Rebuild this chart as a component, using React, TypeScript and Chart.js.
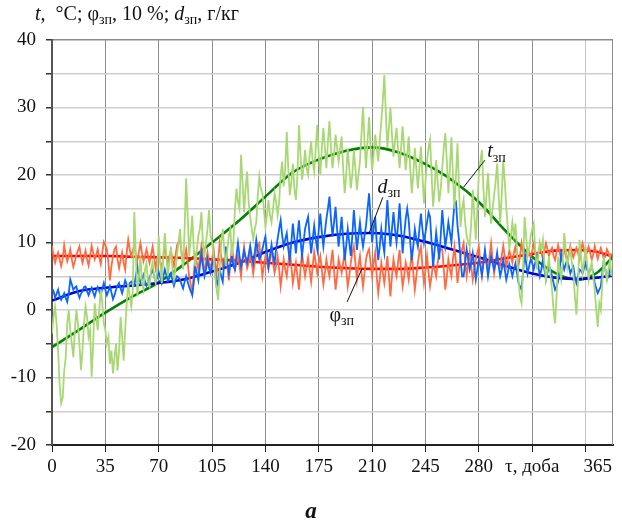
import React, { useEffect, useRef } from "react";
import { Chart, registerables } from "chart.js";

Chart.register(...registerables);

// Daily records, one value per day starting at day 0
const DAY_STEP = 1;

// Outdoor air temperature t_зп, °C
const T_DAILY = [
  -3.5, -1, 0.5, -2, -6, -11, -13.8, -13, -9, -7,
  -2, 0, -3, -5, -7, -3, 0, -2, -5, -8.9,
  -6, -2, 0.5, -1, -4, -3, -9.9, -5, 1, -1,
  -3, 0, 3, 1, -2, -3, -5, -4, -8, -6,
  -9.4, -7, -5, -9, -6, -1, -4, -7.5, -3, 1,
  4, 2, 0.5, 3, 14.5, 8, 2, 5, 8, 4,
  3, 6, 7, 4, 3.5, 6, 7, 5, 4, 6,
  11, 7, 4, 8, 11.4, 8, 5, 7, 9.4, 6,
  4.5, 6, 8, 10, 12, 8, 6, 12, 19.5, 14,
  8, 11, 14, 9, 6.5, 9, 11, 12, 14.5, 10,
  8, 10, 12, 14.8, 11, 10, 8, 5, 3, 1.5,
  6, 10, 12, 9, 6.5, 9, 11, 12, 8, 10,
  15, 18, 16, 15, 23, 19, 14.5, 18, 20.5, 16,
  13.8, 12, 10.5, 12, 13, 17, 19.8, 18, 17.3, 15,
  12.3, 14, 16.3, 14, 13, 15, 17.3, 16, 14, 16,
  20, 22, 18.3, 21, 26.4, 21, 17, 19, 21.7, 18,
  16.3, 20, 27.4, 23, 19.3, 21, 23.7, 21, 20, 23,
  25, 22, 20.5, 24, 27.4, 23, 20, 24, 27, 24,
  21, 25, 28, 24, 21, 23, 26, 24, 22, 24,
  25.7, 21, 17.3, 20, 24, 21, 18, 20, 23.7, 21,
  17.8, 20, 22, 26, 30.1, 25, 21, 25, 28.6, 24,
  20.7, 23, 26, 24, 22, 25, 28, 31, 34.8, 29,
  24, 27, 30, 26, 22.7, 25, 27, 24, 21, 24,
  27.2, 24, 20.7, 23, 25.7, 21, 17.3, 20, 24, 21,
  18, 21, 24.2, 20, 15.8, 19, 22, 24, 25.2, 20,
  15.3, 18, 22.2, 19, 16, 18, 21, 24, 26.2, 22,
  17.3, 21, 25.6, 20, 15, 20, 24.7, 18, 12.3, 15,
  16.3, 13, 11, 10, 9.4, 13, 17.8, 14, 10.4, 15,
  20.3, 22, 23.7, 18, 13.8, 17, 20.3, 16, 12.8, 15,
  17, 19, 21.7, 17, 12.8, 17, 22.2, 19, 15.3, 12,
  8.9, 11, 13, 11, 12.8, 9, 4.5, 2, 1, 6,
  13.8, 11, 7.9, 9, 11, 12, 12.8, 9, 6, 8,
  10, 9, 10.4, 7, 4.5, 6, 8, 5, 3, 0,
  -2, 2, 7.9, 6, 4.5, 7, 11.4, 9, 6.4, 8,
  9, 7, 5.4, 2, -0.7, 4, 10.4, 8, 5.4, 7,
  9.4, 7, 4.5, 6, 7, 5, 3, 0, -2.5, 1,
  0, 4, 7.9, 6, 4.5, 6, 7.4, 5,
];

// Moisture content d_зп, g/kg
const D_DAILY = [
  3.2, 2.8, 1.8, 2.4, 3.0, 2.0, 1.5, 2.0, 2.5, 1.8,
  1.2, 2.5, 4.5, 3.8, 3.0, 3.3, 3.5, 2.5, 1.8, 2.4,
  2.8, 3.4, 3.5, 2.8, 2.2, 2.8, 3.3, 2.6, 2.0, 2.8,
  3.4, 2.8, 2.3, 3.2, 4.0, 3.0, 2.2, 2.8, 3.5, 2.6,
  1.6, 2.2, 3.0, 3.6, 4.0, 3.2, 2.5, 3.4, 4.4, 3.8,
  3.5, 4.0, 4.2, 3.8, 3.6, 5.0, 6.4, 5.0, 4.0, 4.6,
  5.2, 4.2, 3.6, 4.2, 4.8, 5.4, 6.0, 5.0, 4.2, 4.8,
  5.6, 4.8, 4.0, 5.0, 6.0, 5.2, 4.3, 4.8, 5.4, 4.4,
  3.6, 4.4, 5.0, 4.8, 4.5, 3.8, 3.2, 4.2, 5.0, 4.2,
  3.4, 2.8, 2.2, 4.0, 6.5, 5.4, 4.4, 6.5, 8.4, 6.5,
  5.0, 6.0, 7.5, 6.2, 5.5, 6.8, 7.9, 5.5, 3.5, 4.5,
  6.0, 5.0, 4.2, 7.0, 9.4, 7.0, 5.5, 6.8, 8.0, 6.5,
  6.0, 8.0, 9.9, 8.0, 6.4, 7.5, 8.8, 7.8, 7.0, 8.2,
  9.5, 8.0, 6.9, 8.5, 10.4, 8.8, 7.5, 8.0, 9.0, 10.0,
  10.9, 8.5, 6.4, 8.0, 9.6, 8.0, 7.0, 9.0, 10.5, 12.0,
  13.3, 11.0, 9.4, 10.5, 11.4, 9.0, 7.4, 10.0, 12.8, 10.5,
  8.4, 11.0, 13.3, 10.5, 8.0, 10.0, 12.0, 13.0, 13.8, 11.0,
  8.4, 10.5, 12.5, 10.5, 9.0, 12.0, 14.3, 11.5, 9.4, 11.5,
  13.5, 15.0, 16.8, 13.5, 10.9, 13.0, 15.3, 12.0, 9.4, 11.5,
  13.8, 10.5, 7.4, 9.5, 12.0, 10.0, 8.0, 11.0, 14.8, 12.0,
  8.9, 11.0, 13.0, 11.0, 9.4, 11.0, 12.5, 15.0, 17.3, 13.5,
  10.0, 12.0, 13.8, 10.0, 7.4, 9.5, 12.0, 10.0, 8.5, 12.5,
  16.3, 12.5, 9.4, 12.0, 14.5, 12.0, 10.0, 12.5, 15.8, 12.0,
  8.4, 11.0, 13.5, 15.0, 13.3, 10.0, 7.4, 9.5, 12.0, 10.5,
  9.4, 12.0, 14.3, 12.0, 10.0, 11.5, 13.0, 14.5, 13.8, 10.0,
  6.4, 9.0, 11.5, 9.5, 7.5, 11.0, 14.8, 12.0, 9.4, 11.0,
  13.0, 11.5, 10.0, 13.0, 15.8, 16.0, 12.5, 10.4, 7.5, 5.0,
  5.0, 7.0, 9.0, 7.5, 6.0, 7.0, 8.4, 6.5, 4.5, 6.0,
  7.5, 6.5, 5.2, 7.0, 8.9, 7.0, 5.0, 6.5, 8.0, 7.0,
  6.0, 7.0, 8.5, 6.5, 5.0, 6.0, 7.4, 6.0, 4.5, 5.5,
  6.8, 6.0, 5.0, 6.0, 6.9, 5.5, 4.0, 3.5, 3.0, 5.5,
  8.4, 7.0, 5.4, 6.5, 7.5, 7.0, 6.0, 7.0, 8.0, 6.5,
  5.0, 6.0, 7.4, 6.0, 4.5, 5.5, 6.5, 6.0, 5.0, 4.0,
  3.0, 3.5, 4.2, 6.0, 8.4, 7.0, 6.0, 6.8, 7.5, 6.5,
  5.4, 6.0, 6.4, 5.0, 4.0, 5.0, 6.0, 5.8, 5.4, 6.2,
  6.9, 6.0, 5.5, 6.0, 6.5, 5.5, 4.0, 3.2, 2.5, 3.0,
  3.5, 5.5, 7.4, 6.0, 4.5, 5.0, 6.0, 5.5,
];

// Relative humidity φ_зп, in tens of percent
const PHI_DAILY = [
  9.5, 8.0, 7.0, 7.8, 8.5, 7.5, 6.5, 7.5, 9.6, 8.2,
  7.2, 8.0, 9.0, 7.5, 6.4, 7.2, 8.2, 8.8, 9.4, 8.0,
  7.0, 7.8, 8.8, 7.5, 6.6, 8.0, 9.5, 8.5, 7.5, 8.2,
  9.0, 7.8, 6.8, 8.5, 10.1, 9.6, 9.0, 7.0, 4.4, 6.5,
  8.0, 9.0, 9.4, 7.5, 6.2, 7.4, 8.5, 7.0, 6.0, 8.5,
  10.4, 9.0, 8.0, 8.8, 9.6, 8.2, 7.4, 8.6, 9.9, 8.5,
  7.2, 8.0, 9.0, 8.0, 7.0, 8.2, 9.4, 7.8, 6.2, 7.5,
  8.6, 7.2, 6.0, 7.8, 9.5, 8.0, 7.0, 8.0, 8.8, 7.6,
  6.5, 8.0, 9.6, 10.0, 10.4, 8.5, 7.0, 8.0, 9.0, 7.0,
  5.0, 3.8, 2.5, 5.5, 8.0, 7.0, 6.0, 7.8, 9.4, 7.5,
  5.5, 7.0, 8.5, 7.0, 6.0, 7.5, 9.0, 7.0, 5.4, 7.5,
  9.9, 8.0, 6.5, 7.5, 8.5, 6.5, 4.4, 7.0, 9.4, 7.8,
  6.0, 7.0, 8.0, 6.5, 5.0, 7.5, 9.4, 7.5, 6.2, 7.0,
  8.4, 7.0, 5.4, 7.0, 8.8, 9.5, 9.9, 7.5, 5.0, 6.5,
  8.0, 7.0, 6.0, 7.5, 9.4, 7.0, 5.5, 6.5, 8.0, 6.0,
  3.5, 5.5, 7.5, 6.0, 5.0, 7.0, 8.9, 6.5, 4.0, 5.5,
  7.0, 5.0, 3.0, 6.0, 8.5, 6.5, 5.0, 6.5, 7.8, 6.0,
  4.2, 6.5, 8.6, 7.0, 5.5, 7.0, 8.0, 6.0, 3.8, 5.5,
  7.5, 6.0, 5.0, 7.0, 8.9, 6.0, 3.0, 5.0, 7.5, 6.5,
  5.5, 7.0, 8.5, 6.0, 3.5, 5.0, 7.0, 8.5, 9.4, 7.0,
  4.5, 6.5, 8.0, 5.5, 3.5, 5.5, 7.5, 8.5, 9.0, 7.0,
  5.0, 7.0, 8.5, 5.0, 2.5, 4.5, 7.0, 5.5, 4.0, 6.0,
  8.0, 5.0, 2.0, 5.0, 7.5, 6.0, 5.0, 7.0, 8.9, 6.0,
  3.5, 5.0, 7.0, 6.0, 4.5, 6.5, 8.5, 5.5, 3.0, 5.0,
  7.0, 8.5, 9.4, 6.5, 4.0, 6.0, 8.0, 5.5, 3.5, 5.0,
  7.0, 6.0, 5.0, 7.0, 8.5, 9.0, 9.0, 6.0, 3.0, 5.0,
  7.5, 6.0, 5.0, 7.5, 9.4, 7.0, 4.0, 6.0, 8.0, 9.0,
  9.9, 7.0, 5.0, 7.0, 8.5, 6.5, 4.5, 6.0, 7.5, 8.5,
  9.4, 7.0, 5.0, 7.0, 8.5, 7.0, 6.0, 8.0, 9.9, 7.5,
  5.4, 7.0, 8.0, 7.0, 6.5, 8.0, 9.5, 8.0, 6.4, 7.5,
  8.8, 8.0, 7.0, 8.5, 9.4, 8.0, 6.5, 8.0, 9.9, 8.5,
  7.4, 8.0, 9.0, 8.5, 7.8, 8.8, 9.8, 8.5, 7.5, 8.5,
  9.5, 8.5, 7.6, 8.8, 9.9, 9.0, 8.0, 8.8, 9.2, 8.0,
  7.4, 8.5, 9.6, 8.5, 7.5, 8.2, 9.0, 8.0, 7.2, 8.5,
  9.5, 8.5, 7.8, 8.5, 9.2, 8.5, 7.5, 8.8, 9.9, 9.0,
  8.0, 8.6, 9.4, 8.5, 7.4, 8.2, 9.5, 8.5, 7.6, 8.5,
  9.2, 8.5, 7.4, 8.0, 9.0, 8.5, 7.8, 8.4,
];

// Smoothed annual trends
const TREND_DAYS = [0, 18, 35, 52, 70, 88, 105, 123, 140, 158, 175, 193, 210, 228, 245, 262, 280, 298, 315, 330, 345, 358, 368];
const T_TREND = [-5.5, -2.9, -0.4, 1.9, 4.1, 7.0, 10.0, 13.3, 16.8, 20.4, 22.3, 23.6, 24.1, 23.3, 21.6, 19.3, 16.0, 11.6, 7.9, 5.5, 4.5, 5.6, 7.9];
const D_TREND = [1.4, 2.8, 3.3, 3.6, 4.0, 4.6, 5.7, 7.0, 8.6, 10.0, 10.8, 11.3, 11.4, 11.0, 10.1, 9.0, 7.8, 6.5, 5.4, 4.8, 4.6, 4.8, 5.1];
const PHI_TREND = [8.0, 8.0, 8.0, 7.9, 7.8, 7.7, 7.5, 7.3, 7.0, 6.7, 6.4, 6.2, 6.1, 6.1, 6.3, 6.6, 7.0, 7.7, 8.3, 8.8, 8.9, 8.6, 7.9];

const X_TICKS = [0, 35, 70, 105, 140, 175, 210, 245, 280, 315, 350];
const X_MAX = 368;
const Y_MIN = -20;
const Y_MAX = 40;

const SERIF = '"Liberation Serif", "Times New Roman", serif';

type Part = { text: string; italic?: boolean; sub?: boolean; bold?: boolean };

function drawRich(ctx: CanvasRenderingContext2D, x: number, y: number, parts: Part[], size: number) {
  let cx = x;
  ctx.textBaseline = "alphabetic";
  ctx.textAlign = "left";
  for (const p of parts) {
    const s = p.sub ? Math.round(size * 0.68) : size;
    ctx.font = `${p.italic ? "italic " : ""}${p.bold ? "bold " : ""}${s}px ${SERIF}`;
    ctx.fillText(p.text, cx, p.sub ? y + size * 0.22 : y);
    cx += ctx.measureText(p.text).width;
  }
}

const overlay = {
  id: "overlay",
  afterDraw(chart: any) {
    const { ctx, chartArea, scales } = chart;
    const xs = scales.x;
    const ys = scales.y;
    ctx.save();
    // frame right side
    ctx.strokeStyle = "#8c8c8c";
    ctx.lineWidth = 1;
    ctx.beginPath();
    ctx.moveTo(chartArea.right - 0.5, chartArea.top);
    ctx.lineTo(chartArea.right - 0.5, chartArea.bottom);
    ctx.stroke();

    ctx.fillStyle = "#111";
    // axis title
    drawRich(ctx, 35, 20, [
      { text: "t", italic: true },
      { text: ",  °C; φ" },
      { text: "зп", sub: true },
      { text: ", 10 %; " },
      { text: "d", italic: true },
      { text: "зп", sub: true },
      { text: ", г/кг" },
    ], 20);

    // last day label on the x axis
    ctx.font = `19px ${SERIF}`;
    ctx.textAlign = "center";
    ctx.textBaseline = "middle";
    ctx.fillText("365", xs.getPixelForValue(358), chartArea.bottom + 22);

    // leader lines for curve labels
    const line = (x1: number, y1: number, x2: number, y2: number) => {
      ctx.strokeStyle = "#111";
      ctx.lineWidth = 1;
      ctx.beginPath();
      ctx.moveTo(xs.getPixelForValue(x1), ys.getPixelForValue(y1));
      ctx.lineTo(xs.getPixelForValue(x2), ys.getPixelForValue(y2));
      ctx.stroke();
    };
    line(270, 18.2, 284, 22.2);
    line(217, 16.7, 208, 11.4);
    line(193.6, 1.2, 203.5, 6.2);

    drawRich(ctx, xs.getPixelForValue(285.5), ys.getPixelForValue(22.6), [
      { text: "t", italic: true },
      { text: "зп", sub: true },
    ], 20);
    drawRich(ctx, xs.getPixelForValue(213.5), ys.getPixelForValue(17.4), [
      { text: "d", italic: true },
      { text: "зп", sub: true },
    ], 20);
    drawRich(ctx, xs.getPixelForValue(182), ys.getPixelForValue(-1.6), [
      { text: "φ" },
      { text: "зп", sub: true },
    ], 20);

    // panel letter
    ctx.font = `italic bold 23px ${SERIF}`;
    ctx.textAlign = "center";
    ctx.textBaseline = "middle";
    ctx.fillText("a", 311, 512);
    ctx.restore();
  },
};

const daily = (arr: number[]) => arr.map((y, i) => ({ x: i * DAY_STEP, y }));
const trend = (arr: number[]) => arr.map((y, i) => ({ x: TREND_DAYS[i], y }));

export default function App() {
  const ref = useRef<HTMLCanvasElement>(null);

  useEffect(() => {
    if (!ref.current) return;
    const noisy = { borderWidth: 1.8, pointRadius: 0, tension: 0, fill: false };
    const smooth = { borderWidth: 2.6, pointRadius: 0, cubicInterpolationMode: "monotone" as const, fill: false };
    const chart = new Chart(ref.current, {
      type: "line",
      data: {
        datasets: [
          { ...noisy, label: "t daily", data: daily(T_DAILY), borderColor: "#a8d872" },
          { ...noisy, label: "d daily", data: daily(D_DAILY), borderColor: "#0a64ff" },
          { ...noisy, label: "φ daily", data: daily(PHI_DAILY), borderColor: "#ff6a40" },
          { ...smooth, label: "φ trend", data: trend(PHI_TREND), borderColor: "#ff0000" },
          { ...smooth, label: "d trend", data: trend(D_TREND), borderColor: "#0000c8" },
          { ...smooth, label: "t trend", data: trend(T_TREND), borderColor: "#008000" },
        ],
      },
      options: {
        responsive: false,
        animation: false,
        devicePixelRatio: 1,
        layout: { padding: { left: 0, right: 9, top: 40, bottom: 0 } },
        plugins: { legend: { display: false }, tooltip: { enabled: false } },
        scales: {
          x: {
            type: "linear",
            min: 0,
            max: X_MAX,
            afterBuildTicks: (s: any) => {
              s.ticks = X_TICKS.map((v) => ({ value: v }));
            },
            afterFit: (s: any) => {
              s.height = 84;
            },
            ticks: {
              autoSkip: false,
              maxRotation: 0,
              padding: 4,
              color: "#111",
              font: { family: SERIF, size: 19 },
              callback: (v: any) => (v === 315 ? "τ, доба" : v === 350 ? "" : String(v)),
            },
            grid: {
              color: (c: any) => (c.tick && c.tick.value === 350 ? "#c4c4c4" : "#8c8c8c"),
              lineWidth: 1,
              tickLength: 7,
              tickColor: "#222",
            },
            border: { color: "#222", width: 2 },
          },
          y: {
            type: "linear",
            min: Y_MIN,
            max: Y_MAX,
            afterFit: (s: any) => {
              s.width = 52;
            },
            ticks: {
              stepSize: 5,
              padding: 10,
              color: "#111",
              font: { family: SERIF, size: 19 },
              callback: (v: any) => (Number(v) % 10 === 0 ? String(v) : ""),
            },
            grid: {
              color: (c: any) => (c.tick && c.tick.value === Y_MAX ? "#8c8c8c" : "#cfcfcf"),
              lineWidth: 1.5,
              tickLength: 6,
              tickColor: "#333",
            },
            border: { color: "#555", width: 2 },
          },
        },
      },
      plugins: [overlay],
    });
    return () => chart.destroy();
  }, []);

  return (
    <div style={{ position: "absolute", left: 0, top: 0, width: 622, height: 529, background: "#fff" }}>
      <canvas ref={ref} width={622} height={529} />
    </div>
  );
}
